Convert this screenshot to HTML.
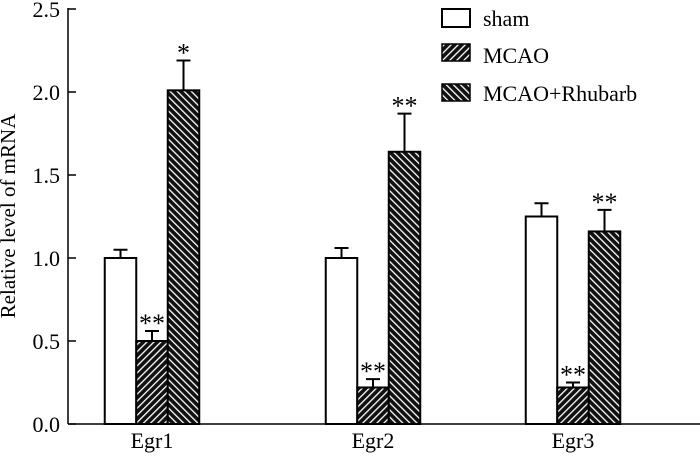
<!DOCTYPE html>
<html><head><meta charset="utf-8"><style>
body{margin:0;background:#fff}
svg{display:block;font-family:"Liberation Serif",serif}
</style></head><body>
<svg width="700" height="457" viewBox="0 0 700 457">
<defs>
<pattern id="hA" patternUnits="userSpaceOnUse" width="5" height="5" patternTransform="rotate(45)">
<rect width="5" height="5" fill="#111"/><rect x="0" width="1.3" height="5" fill="#fff"/>
</pattern>
<pattern id="hB" patternUnits="userSpaceOnUse" width="5" height="5" patternTransform="rotate(-45)">
<rect width="5" height="5" fill="#111"/><rect x="0" width="1.3" height="5" fill="#fff"/>
</pattern>
</defs>
<g id="plot"></g>
<text x="15" y="216" font-size="21" text-anchor="middle" transform="rotate(-90 15 216)">Relative level of mRNA</text>
<g>
<rect x="442" y="9" width="28" height="18" fill="#fff" stroke="#000" stroke-width="2"/>
<text x="483" y="26" font-size="22">sham</text>
<rect x="442" y="44" width="28" height="17" fill="url(#hA)" stroke="#000" stroke-width="1.5"/>
<text x="483" y="63" font-size="22">MCAO</text>
<rect x="442" y="84" width="28" height="17" fill="url(#hB)" stroke="#000" stroke-width="1.5"/>
<text x="483" y="101" font-size="22">MCAO+Rhubarb</text>
</g>
</svg>
<script>
const categories=["Egr1","Egr2","Egr3"];
const shamVals=[1.0,1.0,1.25];
const mcaoVals=[0.5,0.22,0.22];
const rhubarbVals=[2.01,1.64,1.16];
const shamErr=[0.05,0.06,0.08];
const mcaoErr=[0.06,0.05,0.03];
const rhubarbErr=[0.18,0.23,0.13];
const mcaoStars=["**","**","**"];
const rhubarbStars=["*","**","**"];
const yTicks=[0,0.5,1.0,1.5,2.0,2.5];
const yTickLabels=["0.0","0.5","1.0","1.5","2.0","2.5"];
const NS="http://www.w3.org/2000/svg";
const g=document.getElementById('plot');
const y0=424, pxPerUnit=166, axisX=68;
function y(v){return y0-v*pxPerUnit;}
const groupCenters=[152,373,573];
function xg(i){return groupCenters[i];}
const bw=31.5;
function mk(tag,attrs){const e=document.createElementNS(NS,tag);for(const k in attrs)e.setAttribute(k,attrs[k]);g.appendChild(e);return e;}
let ax=mk('line',{x1:axisX,y1:y(2.5)-1,x2:axisX,y2:y0,stroke:'#000','stroke-width':1.5});


let xa=mk('line',{x1:axisX,y1:y0,x2:700,y2:y0,stroke:'#000','stroke-width':1.5});


yTicks.forEach((t,i)=>{
 let tk=mk('line',{x1:axisX,y1:y(t),x2:axisX+8,y2:y(t),stroke:'#000','stroke-width':1.5});
 
 
 let tl=mk('text',{x:60,y:y(t)+8,'font-size':22,'text-anchor':'end'});
 tl.textContent=yTickLabels[i];
 
 
});
const series=[[shamVals,shamErr,'#fff',null,'sham'],[mcaoVals,mcaoErr,'url(#hA)',mcaoStars,'mcao'],[rhubarbVals,rhubarbErr,'url(#hB)',rhubarbStars,'rhubarb']];
categories.forEach((c,i)=>{
 series.forEach((s,j)=>{
  const x=xg(i)-1.5*bw+j*bw, v=s[0][i], e=s[1][i];
  const cx=x+bw/2;
  let eb=mk('path',{d:`M${cx},${y(v)}V${y(v+e)}M${cx-7},${y(v+e)}H${cx+7}`,stroke:'#000','stroke-width':2,fill:'none'});
  
  
  let r=mk('rect',{x:x,y:y(v),width:bw,height:y0-y(v),fill:s[2],stroke:'#000','stroke-width':2});
  
  
  if(s[3]){
   let st=mk('text',{x:cx,y:y(v+e)+1,'font-size':26,'text-anchor':'middle'});
   st.textContent=s[3][i];
   
   
  }
 });
 let cl=mk('text',{x:xg(i),y:448,'font-size':22,'text-anchor':'middle'});
 cl.textContent=c;
 
 
});
</script>
</body></html>
